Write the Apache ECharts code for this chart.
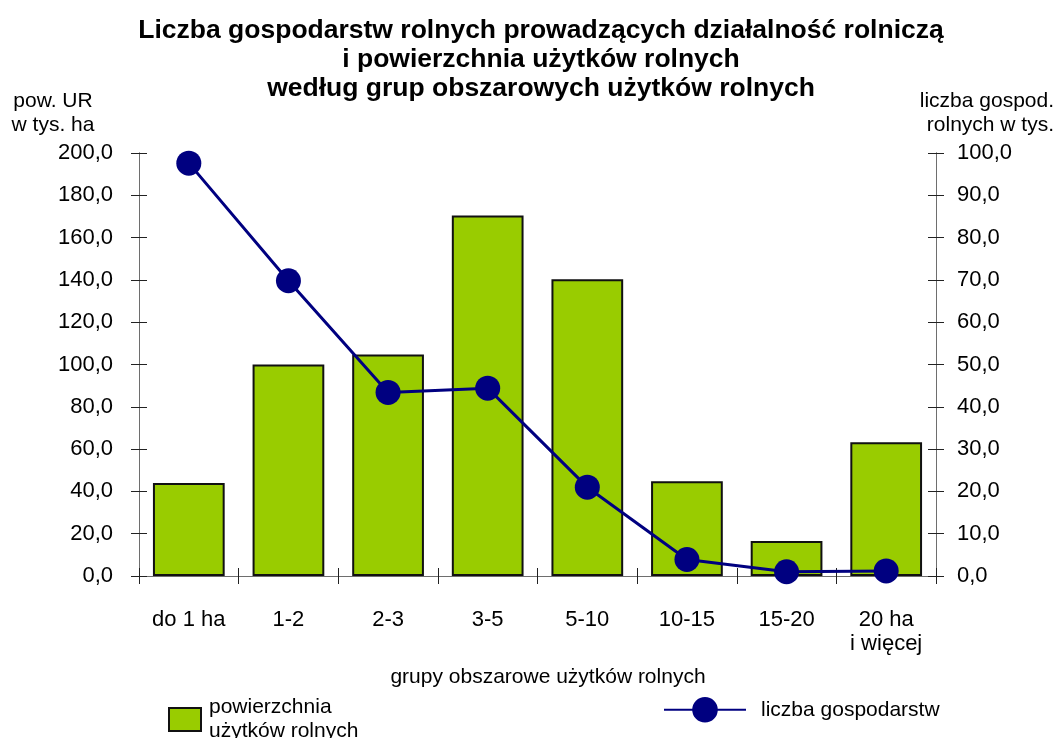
<!DOCTYPE html>
<html>
<head>
<meta charset="utf-8">
<script src="https://cdn.jsdelivr.net/npm/echarts@6/dist/echarts.min.js"></script>
<style>html,body{margin:0;padding:0;background:#fff;}#c{width:1058px;height:738px;}</style>
</head>
<body>
<div id="c"></div>
<script>
var categories = ['do 1 ha', '1-2', '2-3', '3-5', '5-10', '10-15', '15-20', '20 ha\ni więcej'];
var areaValues = [44.0, 100.0, 104.7, 170.5, 140.3, 44.8, 16.5, 63.2];
var farmValues = [97.6, 69.8, 43.4, 44.4, 21.0, 3.9, 1.0, 1.2];
var leftAxis = {min: 0, max: 200, interval: 20};
var rightAxis = {min: 0, max: 100, interval: 10};
var titleLines = 'Liczba gospodarstw rolnych prowadzących działalność rolniczą\ni powierzchnia użytków rolnych\nwedług grup obszarowych użytków rolnych';
var leftName = 'pow. UR\nw tys. ha';
var rightName = 'liczba gospod.\nrolnych w tys.';
var xName = 'grupy obszarowe użytków rolnych';
var barName = 'powierzchnia\nużytków rolnych';
var lineName = 'liczba gospodarstw';

var FONT = '"Liberation Sans", Arial, sans-serif';
function fmt(v) { return v.toFixed(1).replace('.', ','); }

var chart = echarts.init(document.getElementById('c'), null, {renderer: 'canvas'});

function yAx(pos, cfg, inside, labels, margin) {
  return {
    type: 'value', position: pos, min: cfg.min, max: cfg.max, interval: cfg.interval,
    splitLine: {show: false},
    axisLine: {show: true, lineStyle: {color: '#6e6e6e', width: 1}},
    axisTick: {show: true, inside: inside, length: 8, lineStyle: {color: '#222', width: 1}},
    axisLabel: {show: labels, formatter: fmt, fontSize: 22, color: '#000', fontFamily: FONT, margin: margin}
  };
}

var option = {
  backgroundColor: '#fff',
  animation: false,
  grid: {left: 139, right: 122, top: 153, bottom: 162, outerBoundsMode: 'none'},
  xAxis: [
    {
      type: 'category', data: categories, position: 'bottom',
      axisLine: {show: true, lineStyle: {color: '#6e6e6e', width: 1}},
      axisTick: {show: true, inside: false, length: 8, lineStyle: {color: '#222'}},
      axisLabel: {fontSize: 22, color: '#000', fontFamily: FONT, margin: 32, lineHeight: 24, interval: 0}
    },
    {
      type: 'category', data: categories, position: 'bottom',
      axisLine: {show: false},
      axisTick: {show: true, inside: true, length: 8, lineStyle: {color: '#222'}},
      axisLabel: {show: false}
    }
  ],
  yAxis: [
    yAx('left', leftAxis, false, true, 26),
    yAx('right', rightAxis, false, true, 21),
    yAx('left', leftAxis, true, false, 8),
    yAx('right', rightAxis, true, false, 8)
  ],
  legend: [
    {
      data: [{name: barName, icon: 'rect'}], left: 168, top: 692, padding: 0,
      itemWidth: 32, itemHeight: 23,
      textStyle: {fontSize: 21, lineHeight: 24, color: '#000', fontFamily: FONT, padding: [0, 0, 7, 3]}
    },
    {
      data: [lineName], left: 663, top: 697, padding: 0,
      itemWidth: 82, itemHeight: 32,
      textStyle: {fontSize: 21, color: '#000', fontFamily: FONT, padding: [0, 0, 0, 10]}
    }
  ],
  series: [
    {
      name: barName, type: 'bar', data: areaValues, xAxisIndex: 0, yAxisIndex: 0,
      barWidth: '72%',
      itemStyle: {color: '#99cc00', borderColor: '#111', borderWidth: 2}
    },
    {
      name: lineName, type: 'line', data: farmValues, xAxisIndex: 0, yAxisIndex: 1,
      symbol: 'circle', symbolSize: 25,
      lineStyle: {color: '#000080', width: 3},
      itemStyle: {color: '#000080'}
    }
  ],
  graphic: [
    {type: 'text', x: 541, y: 16, style: {text: titleLines, font: 'bold 26.5px ' + FONT, lineHeight: 29, align: 'center', verticalAlign: 'top', fill: '#000'}},
    {type: 'text', x: 53, y: 89, style: {text: leftName, font: '21px ' + FONT, lineHeight: 24, align: 'center', verticalAlign: 'top', fill: '#000'}},
    {type: 'text', x: 1054, y: 89, style: {text: rightName, font: '21px ' + FONT, lineHeight: 24, align: 'right', verticalAlign: 'top', fill: '#000'}},
    {type: 'text', x: 548, y: 665, style: {text: xName, font: '21px ' + FONT, lineHeight: 24, align: 'center', verticalAlign: 'top', fill: '#000'}}
  ]
};
chart.setOption(option);
</script>
</body>
</html>
